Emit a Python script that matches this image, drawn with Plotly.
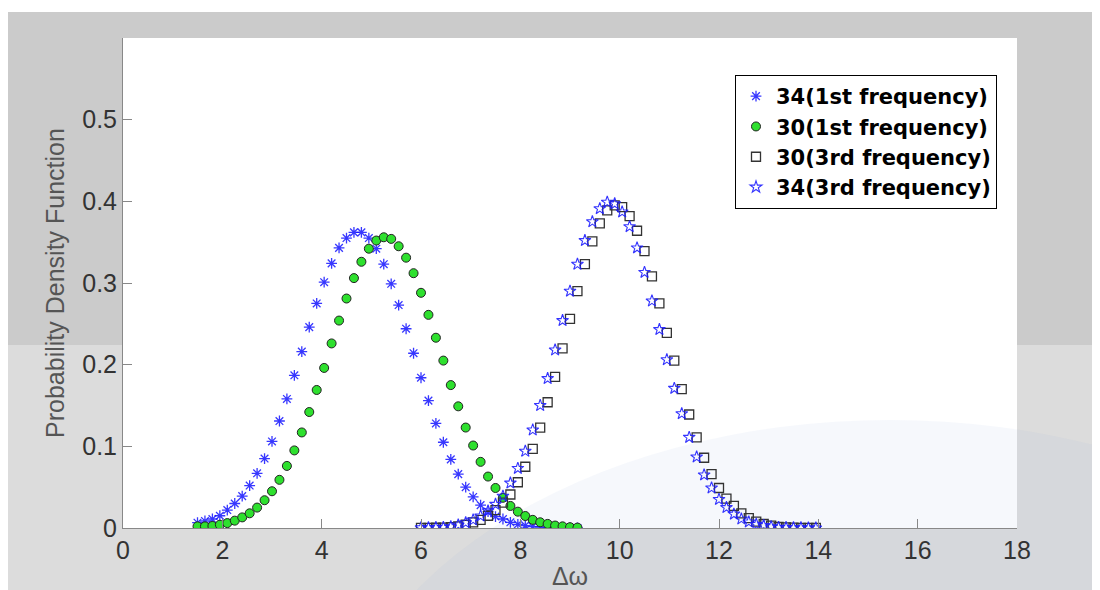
import plotly.graph_objects as go

# ---- data ----
x_first = [1.5, 1.65, 1.8, 1.95, 2.1, 2.25, 2.4, 2.55, 2.7, 2.85, 3.0, 3.15, 3.3, 3.45, 3.6, 3.75,
           3.9, 4.05, 4.2, 4.35, 4.5, 4.65, 4.8, 4.95, 5.1, 5.25, 5.4, 5.55, 5.7, 5.85, 6.0, 6.15,
           6.3, 6.45, 6.6, 6.75, 6.9, 7.05, 7.2, 7.35, 7.5, 7.65, 7.8, 7.95, 8.1, 8.25, 8.4, 8.55,
           8.7, 8.85, 9.0, 9.15]

pdf_34_first = [0.0065, 0.0086, 0.011, 0.015, 0.022, 0.030, 0.039, 0.052, 0.067, 0.085, 0.106, 0.131,
                0.158, 0.187, 0.216, 0.246, 0.275, 0.301, 0.324, 0.343, 0.355, 0.362, 0.362, 0.355,
                0.342, 0.323, 0.299, 0.273, 0.244, 0.214, 0.184, 0.156, 0.128, 0.105, 0.084, 0.066,
                0.050, 0.038, 0.028, 0.020, 0.014, 0.011, 0.007, 0.0045, 0.003, 0.0016, 0.0012,
                0.0005, 0.0003, 0.0002, 0.0001, 0.0001]

pdf_30_first = [0.002, 0.002, 0.0025, 0.004, 0.006, 0.009, 0.013, 0.018, 0.025, 0.034, 0.045, 0.059,
                0.076, 0.095, 0.117, 0.142, 0.169, 0.196, 0.226, 0.254, 0.281, 0.306, 0.326, 0.342,
                0.352, 0.356, 0.354, 0.345, 0.331, 0.312, 0.288, 0.261, 0.233, 0.205, 0.175, 0.149,
                0.123, 0.101, 0.081, 0.063, 0.049, 0.037, 0.027, 0.020, 0.0147, 0.010, 0.007, 0.005,
                0.003, 0.002, 0.001, 0.0005]

x_third = [6.0, 6.15, 6.3, 6.45, 6.6, 6.75, 6.9, 7.05, 7.2, 7.35, 7.5, 7.65, 7.8, 7.95, 8.1, 8.25,
           8.4, 8.55, 8.7, 8.85, 9.0, 9.15, 9.3, 9.45, 9.6, 9.75, 9.9, 10.05, 10.2, 10.35, 10.5,
           10.65, 10.8, 10.95, 11.1, 11.25, 11.4, 11.55, 11.7, 11.85, 12.0, 12.15, 12.3, 12.45,
           12.6, 12.75, 12.9, 13.05, 13.2, 13.35, 13.5, 13.65, 13.8, 13.95]

pdf_30_third = [0.0001, 0.0002, 0.0003, 0.0005, 0.001, 0.002, 0.004, 0.007, 0.010, 0.015, 0.022,
                0.031, 0.041, 0.056, 0.075, 0.097, 0.123, 0.154, 0.185, 0.220, 0.256, 0.290, 0.323,
                0.351, 0.373, 0.389, 0.395, 0.393, 0.382, 0.364, 0.339, 0.308, 0.275, 0.239, 0.205,
                0.170, 0.139, 0.111, 0.086, 0.066, 0.049, 0.036, 0.027, 0.018, 0.012, 0.0077,
                0.0049, 0.0028, 0.0012, 0.0007, 0.0004, 0.0002, 0.0001, 0.0001]

pdf_34_third = [0.0003, 0.0004, 0.0005, 0.0008, 0.0016, 0.0037, 0.0065, 0.0098, 0.0147, 0.021, 0.029,
                0.039, 0.055, 0.073, 0.094, 0.120, 0.150, 0.183, 0.218, 0.254, 0.290, 0.323, 0.352,
                0.375, 0.391, 0.399, 0.397, 0.387, 0.369, 0.343, 0.313, 0.278, 0.243, 0.206, 0.171,
                0.140, 0.111, 0.087, 0.065, 0.049, 0.035, 0.025, 0.017, 0.011, 0.0074, 0.0045,
                0.003, 0.0016, 0.0008, 0.0005, 0.0003, 0.0002, 0.0001, 0.0001]

series_names = ["34(1st frequency)", "30(1st frequency)", "30(3rd frequency)", "34(3rd frequency)"]
x_ticks = [0, 2, 4, 6, 8, 10, 12, 14, 16, 18]
y_ticks = [0, 0.1, 0.2, 0.3, 0.4, 0.5]

fig = go.Figure()

fig.add_trace(go.Scatter(
    x=x_first, y=pdf_34_first, mode="markers", name=series_names[0],
    marker=dict(symbol="asterisk-open", size=9, color="rgba(20,20,255,0.85)",
                line=dict(color="rgba(20,20,255,0.85)", width=1.3))))
fig.add_trace(go.Scatter(
    x=x_first, y=pdf_30_first, mode="markers", name=series_names[1],
    marker=dict(symbol="circle", size=9, color="#2ee02e",
                line=dict(color="#222222", width=1))))
fig.add_trace(go.Scatter(
    x=x_third, y=pdf_30_third, mode="markers", name=series_names[2],
    marker=dict(symbol="square-open", size=9, color="#333333",
                line=dict(color="#333333", width=1.3))))
fig.add_trace(go.Scatter(
    x=x_third, y=pdf_34_third, mode="markers", name=series_names[3],
    marker=dict(symbol="star-open", size=9, color="rgba(30,30,255,0.9)",
                line=dict(color="rgba(30,30,255,0.9)", width=1.1))))

# page is offset by the 8px body margin; figure coords = page coords - 8
OFF = 8
W, H = 1092, 582
L, T = 123 - OFF, 38 - OFF
Rpx, Bpx = 1017 - OFF, 528 - OFF
R, B = W - Rpx, H - Bpx
pw, ph = Rpx - L, Bpx - T


def px(xpage):
    return (xpage - OFF - L) / pw


def py(ypage):
    return (Bpx - (ypage - OFF)) / ph


shapes = [
    dict(type="rect", xref="paper", yref="paper", x0=px(8), x1=px(1105), y0=py(345), y1=py(12),
         fillcolor="#cbcbcb", line=dict(width=0), layer="below"),
    dict(type="rect", xref="paper", yref="paper", x0=px(8), x1=px(1105), y0=py(600), y1=py(345),
         fillcolor="#dcdcdc", line=dict(width=0), layer="below"),
    dict(type="rect", xref="paper", yref="paper", x0=0, x1=1, y0=0, y1=1,
         fillcolor="white", line=dict(width=0), layer="below"),
    dict(type="circle", xref="paper", yref="paper", x0=px(330), x1=px(1450), y0=py(1150), y1=py(420),
         fillcolor="rgba(150,175,220,0.09)", line=dict(width=0), layer="below"),
]

fig.update_layout(
    width=W, height=H,
    margin=dict(l=L, r=R, t=T, b=B, autoexpand=False),
    paper_bgcolor="white",
    plot_bgcolor="rgba(0,0,0,0)",
    shapes=shapes,
    font=dict(family="Liberation Sans, Arial, sans-serif", color="#333333"),
    showlegend=True,
    legend=dict(
        x=px(997), y=py(75), xanchor="right", yanchor="top",
        bgcolor="white", bordercolor="black", borderwidth=1,
        font=dict(size=21, color="black", family="DejaVu Sans, sans-serif", weight="bold"),
        itemsizing="trace", tracegroupgap=0,
    ),
    xaxis=dict(
        range=[0, 18], tickvals=x_ticks, ticktext=[str(v) for v in x_ticks],
        showgrid=False, zeroline=False, showline=True, linecolor="#888888", linewidth=1,
        ticks="inside", ticklen=9, tickcolor="#888888", mirror=False, automargin=False,
        tickfont=dict(size=25, color="#333333"),
        title=dict(text="Δω", font=dict(size=25, color="#555555"), standoff=6),
    ),
    yaxis=dict(
        range=[0, 0.6], tickvals=y_ticks, ticktext=["0", "0.1", "0.2", "0.3", "0.4", "0.5"],
        showgrid=False, zeroline=False, showline=True, linecolor="#888888", linewidth=1,
        ticks="inside", ticklen=9, tickcolor="#888888", mirror=False, automargin=False,
        tickfont=dict(size=25, color="#333333"),
        title=dict(text="Probability Density Function", font=dict(size=25, color="#555555"), standoff=10),
    ),
)

fig.write_html("out.html")
